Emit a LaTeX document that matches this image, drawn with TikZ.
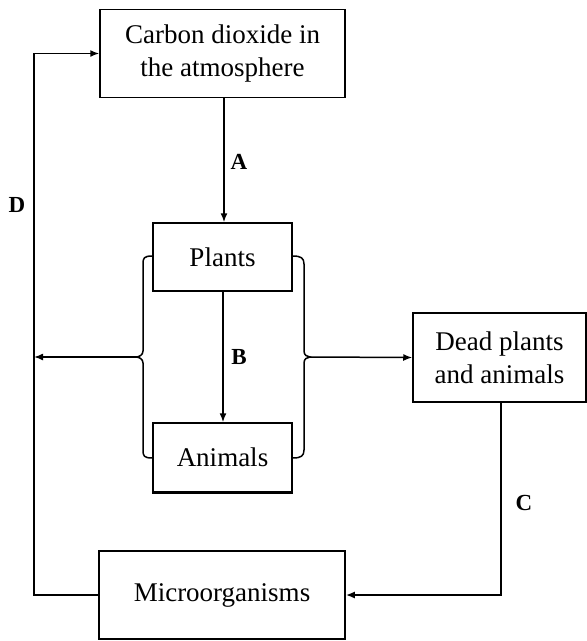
\documentclass[tikz,border=0pt]{standalone}
\usepackage{fontspec}
\setmainfont{Liberation Serif}
\usetikzlibrary{arrows.meta}
\begin{document}
\begin{tikzpicture}[x=1pt,y=-1pt,
  box/.style={draw, line width=1.5pt, inner sep=0pt, align=center,
    font=\fontsize{27}{33}\selectfont},
  lbl/.style={font=\fontsize{23}{25}\selectfont\bfseries, inner sep=0pt},
  conn/.style={line width=1.5pt},
  arr/.style={conn, -{Latex[length=9pt,width=7pt]}}]
\useasboundingbox (0,0) rectangle (587,641);
\node[box, minimum width=245pt, minimum height=88pt] (co2) at (222.5,53.5) {Carbon dioxide in\\the atmosphere};
\node[box, minimum width=139pt, minimum height=68pt] (plants) at (222.5,257) {Plants};
\node[box, minimum width=139pt, minimum height=69pt] (animals) at (222.5,457.5) {Animals};
\node[box, minimum width=173pt, minimum height=89pt] (dead) at (499.5,357.5) {Dead plants\\and animals};
\node[box, minimum width=246pt, minimum height=88pt] (micro) at (222,595) {Microorganisms};
% thick bottom of Animals box
\draw[line width=2.6pt] (animals.south west) -- (animals.south east);
% A and B
\draw[arr] (co2.south -| 224,0) -- (plants.north -| 224,0);
\draw[arr] (plants.south -| 223,0) -- (animals.north -| 223,0);
\node[lbl] (la) at (239,162) {A};
\node[lbl] (lb) at (239,357) {B};
% left brace
\coordinate (lt) at (136,357);
\draw[conn] (plants.west |- 0,256) .. controls (144,256) and (143,258) .. (143,264)
  -- (143,351) .. controls (143,355) and (139,357) .. (lt)
  .. controls (139,357) and (143,359) .. (143,363)
  -- (143,450) .. controls (143,456) and (144,458) .. (animals.west |- 0,458);
% right brace
\coordinate (rt) at (310,357);
\draw[conn] (plants.east |- 0,256) .. controls (301,256) and (304,258) .. (304,264)
  -- (304,351) .. controls (304,355) and (307,357) .. (rt)
  .. controls (307,357) and (304,359) .. (304,363)
  -- (304,450) .. controls (304,456) and (301,458) .. (animals.east |- 0,458);
% D loop
\coordinate (dl) at (34,357);
\draw[arr] (lt) -- (dl);
\draw[arr] (micro.west) -- (34,595) |- (co2.west);
\node[lbl] (ld) at (17,205) {D};
% to dead
\draw[arr] (rt) -- (dead.west);
% C
\draw[line width=2.6pt, -{Latex[length=9pt,width=7pt]}] (dead.south -| 501,0) -- (501,595) -- (micro.east);
\node[lbl] (lc) at (524,503) {C};
\end{tikzpicture}
\end{document}
